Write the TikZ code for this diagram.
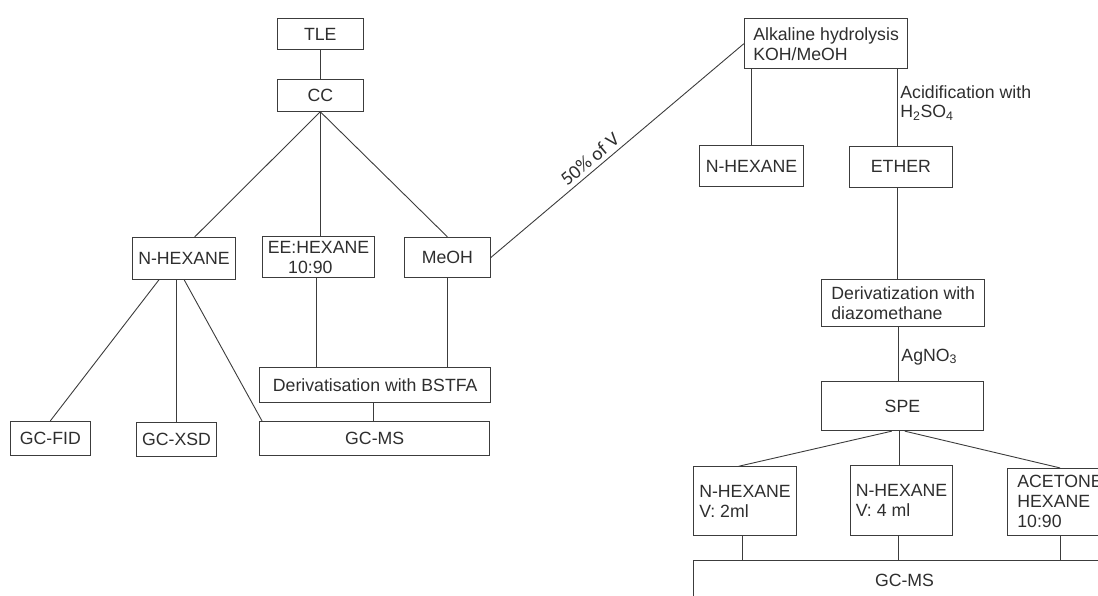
\documentclass[tikz,border=0pt]{standalone}
\usepackage{fontspec}
\setmainfont{Liberation Sans}
\newfontfamily\pctfont{Carlito}
\usepackage{tikz}
\usetikzlibrary{calc}
\definecolor{fline}{HTML}{3C3C3C}
\definecolor{ftext}{HTML}{2E2E2E}
\tikzset{
  fbox/.style={draw=fline, line width=0.9pt, text=ftext, align=left, inner sep=0pt,
               font=\fontsize{17.7}{20}\selectfont},
  flink/.style={draw=fline, line width=0.9pt},
  fnote/.style={text=ftext, align=left, inner sep=2.5pt,
                font=\fontsize{17.7}{19.5}\selectfont},
}

\begin{document}
\begin{tikzpicture}[x=1pt,y=-1pt]

  \clip (0,0) rectangle (1098,595);

  % extraction
  \node[fbox, minimum width=86.3pt, minimum height=30.6pt] (tle) at (320.3,34) {TLE};
  \node[fbox, minimum width=86.3pt, minimum height=32pt] (cc) at (320.3,95.3) {CC};

  % fractions
  \node[fbox, minimum width=103.5pt, minimum height=41.7pt] (hexl) at (184,258.2) {N-HEXANE};
  \node[fbox, minimum width=112.2pt, minimum height=41.4pt] (eehex) at (318.5,257)
       {EE:HEXANE\\\hspace*{1.15em}10:90};
  \node[fbox, minimum width=86pt, minimum height=40.4pt] (meoh) at (447.4,257.5) {MeOH};

  % analysis, left
  \node[fbox, minimum width=231.1pt, minimum height=34.7pt] (bstfa) at (375.2,384.7)
       {Derivatisation with BSTFA};
  \node[fbox, minimum width=230.1pt, minimum height=33.7pt] (gcmsl) at (374.7,438.2) {GC-MS};
  \node[fbox, minimum width=79.6pt, minimum height=33.7pt] (gcfid) at (50.3,438.2) {GC-FID};
  \node[fbox, minimum width=80.7pt, minimum height=33.7pt] (gcxsd) at (176.5,439.2) {GC-XSD};

  \draw[flink] (tle.south) -- (cc.north);
  \draw[flink] (cc.south) -- ($(hexl.north)+(10.7,0)$);
  \draw[flink] (cc.south) -- (cc.south |- eehex.north);
  \draw[flink] (cc.south) -- (meoh.north);
  \draw[flink] ($(hexl.south)+(-24.8,0)$) -- (gcfid.north);
  \draw[flink] (gcxsd.north |- hexl.south) -- (gcxsd.north);
  \draw[flink] (hexl.south) -- ($(gcmsl.north west)+(2.8,0)$);
  \draw[flink] ($(eehex.south)+(-1.8,0)$) -- ($(eehex.south |- bstfa.north)+(-1.8,0)$);
  \draw[flink] (meoh.south) -- (meoh.south |- bstfa.north);
  \draw[flink] ($(bstfa.south)+(-1.6,0)$) -- ($(bstfa.south |- gcmsl.north)+(-1.6,0)$);

  % hydrolysis branch
  \node[fbox, minimum width=163.6pt, minimum height=50pt] (alk) at (826.1,43.7)
       {Alkaline hydrolysis\\KOH/MeOH};
  \node[fbox, minimum width=103.8pt, minimum height=41.4pt] (hexm) at (751.5,166) {N-HEXANE};
  \node[fbox, minimum width=102.8pt, minimum height=41.7pt] (ether) at (900.9,166.9) {ETHER};
  \node[fbox, minimum width=163.2pt, minimum height=47.4pt] (diaz) at (903.2,303)
       {Derivatization with\\diazomethane};
  \node[fbox, minimum width=162.9pt, minimum height=49pt] (spe) at (902.4,406.2) {SPE};

  \draw[flink] (meoh.east) -- node[pos=0.42, sloped, above, inner sep=4pt, text=ftext,
       font=\pctfont\fontsize{19.5}{20}\selectfont] {50\% of V} (alk.west);
  \draw[flink] (hexm.north |- alk.south) -- (hexm.north);
  \draw[flink] ($(ether.north |- alk.south)+(-3.5,0)$) --
       node[fnote, right, pos=0.44] {Acidification with\\H\textsubscript{2}SO\textsubscript{4}}
       ($(ether.north)+(-3.5,0)$);
  \draw[flink] ($(ether.south)+(-3.5,0)$) -- ($(ether.south |- diaz.north)+(-3.5,0)$);
  \draw[flink] ($(diaz.south)+(-4.7,0)$) --
       node[fnote, right, pos=0.55] {AgNO\textsubscript{3}}
       ($(diaz.south |- spe.north)+(-4.7,0)$);

  % spe eluates
  \node[fbox, minimum width=103.5pt, minimum height=69pt] (hex2) at (745,501.2)
       {N-HEXANE\\V: 2ml};
  \node[fbox, minimum width=101.7pt, minimum height=69.3pt] (hex4) at (901.5,500.4)
       {N-HEXANE\\V: 4 ml};
  \node[fbox, minimum width=104.6pt, minimum height=66.7pt] (acet) at (1060,501.7)
       {ACETONE\\HEXANE\\10:90};
  \node[fbox, minimum width=422.4pt, minimum height=40pt] (gcmsr) at (904.5,580) {GC-MS};

  \draw[flink] ($(spe.south)+(-10.6,0)$) -- ($(hex2.north)+(-6.3,0)$);
  \draw[flink] ($(hex4.north |- spe.south)+(-2,0)$) -- ($(hex4.north)+(-2,0)$);
  \draw[flink] ($(spe.south)+(2.4,0)$) -- (acet.north);
  \draw[flink] ($(hex2.south)+(-3,0)$) -- ($(hex2.south |- gcmsr.north)+(-3,0)$);
  \draw[flink] ($(hex4.south)+(-3.5,0)$) -- ($(hex4.south |- gcmsr.north)+(-3.5,0)$);
  \draw[flink] (acet.south) -- (acet.south |- gcmsr.north);

\end{tikzpicture}
\end{document}
